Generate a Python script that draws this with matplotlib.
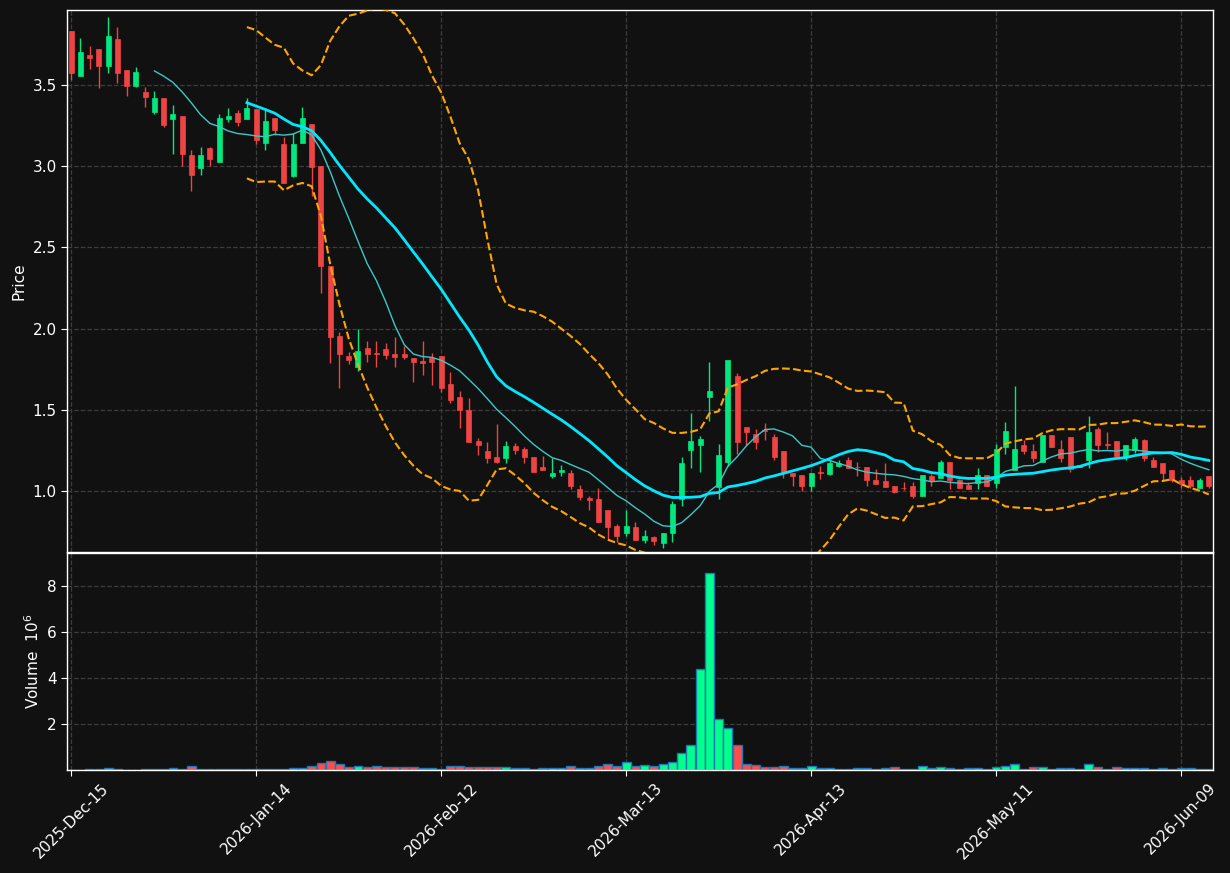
import numpy as np
import pandas as pd
import matplotlib
matplotlib.use("Agg")
import matplotlib.pyplot as plt
from matplotlib.patches import Rectangle

# --- data (one row per trading day, index 0..123) ---
opens = [3.83, 3.557, 3.686, 3.721, 3.619, 3.783, 3.592, 3.496, 3.457, 3.336,
         3.42, 3.293, 3.309, 3.070, 2.986, 3.113, 3.023, 3.293, 3.326, 3.293,
         3.352, 3.145, 3.294, 3.135, 2.941, 3.145, 3.26, 3.0, 2.387, 1.953,
         1.830, 1.765, 1.879, 1.848, 1.873, 1.843, 1.843, 1.818, 1.80, 1.82,
         1.83, 1.656, 1.576, 1.496, 1.305, 1.243, 1.206, 1.20, 1.274, 1.261,
         1.212, 1.15, 1.091, 1.115, 1.113, 1.014, 0.959, 0.953, 0.885, 0.786,
         0.743, 0.78, 0.70, 0.718, 0.681, 0.739, 0.949, 1.255, 1.286, 1.576,
         1.027, 1.177, 1.706, 1.391, 1.352, 1.378, 1.335, 1.243, 1.113, 1.097,
         1.029, 1.115, 1.107, 1.156, 1.193, 1.15, 1.148, 1.07, 1.064, 1.033,
         1.021, 1.033, 0.967, 1.093, 1.078, 1.181, 1.066, 1.039, 1.047, 1.099,
         1.047, 1.27, 1.13, 1.286, 1.243, 1.177, 1.342, 1.261, 1.333, 1.146,
         1.189, 1.383, 1.29, 1.305, 1.206, 1.255, 1.311, 1.193, 1.173, 1.132,
         1.07, 1.07, 1.016, 1.095]
highs = [3.83, 3.787, 3.738, 3.721, 3.918, 3.857, 3.592, 3.611, 3.486, 3.461,
         3.42, 3.375, 3.309, 3.098, 3.117, 3.117, 3.32, 3.357, 3.348, 3.418,
         3.352, 3.344, 3.294, 3.18, 3.202, 3.364, 3.26, 3.0, 2.387, 1.98,
         1.853, 1.998, 1.926, 1.922, 1.914, 1.949, 1.894, 1.818, 1.922, 1.847,
         1.83, 1.735, 1.617, 1.574, 1.325, 1.302, 1.414, 1.309, 1.296, 1.272,
         1.212, 1.214, 1.204, 1.158, 1.13, 1.037, 0.967, 1.019, 0.885, 0.798,
         0.883, 0.809, 0.759, 0.724, 0.743, 0.938, 1.21, 1.481, 1.339, 1.796,
         1.29, 1.805, 1.724, 1.391, 1.381, 1.42, 1.352, 1.243, 1.113, 1.097,
         1.113, 1.154, 1.193, 1.193, 1.212, 1.181, 1.148, 1.134, 1.173, 1.033,
         1.056, 1.056, 1.099, 1.107, 1.193, 1.181, 1.076, 1.058, 1.142, 1.099,
         1.288, 1.426, 1.644, 1.311, 1.288, 1.342, 1.342, 1.311, 1.333, 1.16,
         1.463, 1.391, 1.366, 1.305, 1.284, 1.335, 1.323, 1.21, 1.173, 1.132,
         1.086, 1.095, 1.08, 1.095]
lows = [3.53, 3.557, 3.596, 3.48, 3.574, 3.512, 3.43, 3.49, 3.367, 3.324,
        3.244, 3.078, 3.0, 2.848, 2.945, 3.002, 3.023, 3.275, 3.246, 3.293,
        3.135, 3.098, 3.19, 2.894, 2.935, 3.145, 2.818, 2.221, 1.791, 1.632,
        1.779, 1.738, 1.796, 1.765, 1.814, 1.765, 1.814, 1.669, 1.716, 1.654,
        1.61, 1.539, 1.387, 1.30, 1.22, 1.173, 1.173, 1.173, 1.228, 1.171,
        1.115, 1.128, 1.078, 1.091, 1.01, 0.944, 0.883, 0.809, 0.704, 0.685,
        0.72, 0.70, 0.677, 0.665, 0.646, 0.685, 0.91, 1.142, 1.117, 1.43,
        0.951, 1.156, 1.228, 1.286, 1.259, 1.311, 1.191, 1.082, 1.029, 0.998,
        1.002, 1.072, 1.097, 1.146, 1.14, 1.091, 1.029, 1.045, 1.027, 0.986,
        1.008, 0.957, 0.967, 1.031, 1.078, 1.014, 1.016, 1.014, 1.012, 1.029,
        1.02, 1.228, 1.13, 1.228, 1.179, 1.177, 1.27, 1.181, 1.117, 1.146,
        1.14, 1.241, 1.259, 1.21, 1.193, 1.235, 1.185, 1.146, 1.07, 1.058,
        1.018, 1.018, 1.016, 1.018]
closes = [3.576, 3.703, 3.668, 3.619, 3.801, 3.576, 3.496, 3.580, 3.428, 3.42,
          3.254, 3.322, 3.078, 2.943, 3.070, 3.047, 3.297, 3.307, 3.275, 3.357,
          3.164, 3.278, 3.225, 2.894, 3.135, 3.294, 2.998, 2.384, 1.949, 1.845,
          1.808, 1.859, 1.845, 1.843, 1.836, 1.826, 1.826, 1.796, 1.79, 1.796,
          1.632, 1.56, 1.498, 1.30, 1.282, 1.202, 1.177, 1.274, 1.251, 1.208,
          1.115, 1.128, 1.111, 1.132, 1.029, 0.961, 0.942, 0.809, 0.776, 0.72,
          0.786, 0.70, 0.724, 0.689, 0.743, 0.922, 1.175, 1.305, 1.323, 1.613,
          1.224, 1.805, 1.30, 1.366, 1.30, 1.372, 1.208, 1.115, 1.09, 1.029,
          1.113, 1.11, 1.175, 1.175, 1.14, 1.146, 1.066, 1.045, 1.027, 0.996,
          1.017, 0.971, 1.099, 1.064, 1.179, 1.068, 1.016, 1.014, 1.099, 1.029,
          1.261, 1.372, 1.261, 1.249, 1.2, 1.342, 1.27, 1.202, 1.136, 1.16,
          1.366, 1.282, 1.28, 1.218, 1.284, 1.323, 1.2, 1.146, 1.109, 1.07,
          1.045, 1.029, 1.07, 1.029]
# volume in millions
volume_m = [0.02, 0.01, 0.03, 0.03, 0.09, 0.04, 0.005, 0.005, 0.03, 0.03,
            0.03, 0.09, 0.06, 0.17, 0.04, 0.04, 0.04, 0.04, 0.04, 0.04,
            0.03, 0.03, 0.03, 0.03, 0.09, 0.09, 0.17, 0.32, 0.39, 0.26,
            0.12, 0.17, 0.12, 0.17, 0.12, 0.12, 0.12, 0.13, 0.09, 0.09,
            0.03, 0.17, 0.17, 0.13, 0.13, 0.13, 0.13, 0.13, 0.09, 0.09,
            0.03, 0.09, 0.09, 0.09, 0.17, 0.09, 0.09, 0.17, 0.26, 0.17,
            0.36, 0.17, 0.22, 0.17, 0.26, 0.35, 0.74, 1.09, 4.39, 8.57,
            2.22, 1.83, 1.09, 0.26, 0.22, 0.13, 0.13, 0.17, 0.09, 0.09,
            0.17, 0.09, 0.09, 0.04, 0.04, 0.09, 0.09, 0.04, 0.09, 0.13,
            0.04, 0.04, 0.17, 0.09, 0.13, 0.09, 0.04, 0.09, 0.09, 0.04,
            0.13, 0.17, 0.26, 0.04, 0.13, 0.13, 0.04, 0.09, 0.09, 0.04,
            0.26, 0.13, 0.04, 0.13, 0.09, 0.09, 0.09, 0.04, 0.09, 0.04,
            0.09, 0.09, 0.04, 0.04]

tick_idx = [0, 20, 40, 60, 80, 100, 120]
tick_labels = ["2025-Dec-15", "2026-Jan-14", "2026-Feb-12", "2026-Mar-13",
               "2026-Apr-13", "2026-May-11", "2026-Jun-09"]

BG = "#111111"
UP = "#00e87e"
DOWN = "#ef4444"
VUP = "#00ff8c"
VDOWN = "#ff4d4d"

df = pd.DataFrame({"open": opens, "high": highs, "low": lows,
                   "close": closes, "vol": volume_m})
x = np.arange(len(df))
up = df["close"] >= df["open"]

# indicators, as mplfinance would compute them
sma10 = df["close"].rolling(10).mean()
sma20 = df["close"].rolling(20).mean()
std20 = df["close"].rolling(20).std(ddof=0)
bb_up = sma20 + 2 * std20
bb_lo = sma20 - 2 * std20

fig = plt.figure(figsize=(12.3, 8.73), dpi=100, facecolor=BG)
ax = fig.add_axes([67 / 1230, 1 - 552 / 873, 1146 / 1230, 542 / 873])
axv = fig.add_axes([67 / 1230, 1 - 770 / 873, 1146 / 1230, 217 / 873], sharex=ax)

for a in (ax, axv):
    a.set_facecolor(BG)
    for s in a.spines.values():
        s.set_color("white")
        s.set_linewidth(1.0)
    a.tick_params(colors="white", labelsize=11, length=4)
    a.grid(True, color="#3c3c3c", linestyle="--", linewidth=0.9)
    a.set_axisbelow(True)

# candles
body_w = 0.55
for i in x:
    c = UP if up[i] else DOWN
    ax.vlines(i, df["low"][i], df["high"][i], color=c, linewidth=1.0, zorder=2)
    lo = min(df["open"][i], df["close"][i])
    h = max(abs(df["close"][i] - df["open"][i]), 0.004)
    ax.add_patch(Rectangle((i - body_w / 2, lo), body_w, h, facecolor=c,
                           edgecolor=c, linewidth=0.5, zorder=3))

ax.plot(x, sma10, color="#3cc8c8", linewidth=1.0, zorder=4)
ax.plot(x, sma20, color="#00e8ff", linewidth=2.0, zorder=4)
ax.plot(x, bb_up, color="#ffa500", linewidth=1.5, linestyle="--", zorder=4)
ax.plot(x, bb_lo, color="#ffa500", linewidth=1.5, linestyle="--", zorder=4)

ax.set_ylim(0.624, 3.962)
ax.set_yticks([1.0, 1.5, 2.0, 2.5, 3.0, 3.5])
ax.set_ylabel("Price", color="white", fontsize=11)
ax.tick_params(axis="x", labelbottom=False)

# volume
vcol = [VUP if u else VDOWN for u in up]
axv.bar(x, df["vol"], width=0.95, color=vcol, edgecolor="#1f77b4",
        linewidth=1.0, zorder=2)
axv.set_ylim(0, 9.45)
axv.set_yticks([2, 4, 6, 8])
axv.set_ylabel("Volume  $10^{6}$", color="white", fontsize=11)

axv.set_xlim(-0.45, len(df) - 1 + 0.45)
axv.set_xticks(tick_idx)
axv.set_xticklabels(tick_labels, rotation=45, ha="center")

ax.yaxis.set_label_coords(-0.035, 0.5)
axv.yaxis.set_label_coords(-0.022, 0.5)

fig.savefig("out.png", dpi=100, facecolor=BG)
